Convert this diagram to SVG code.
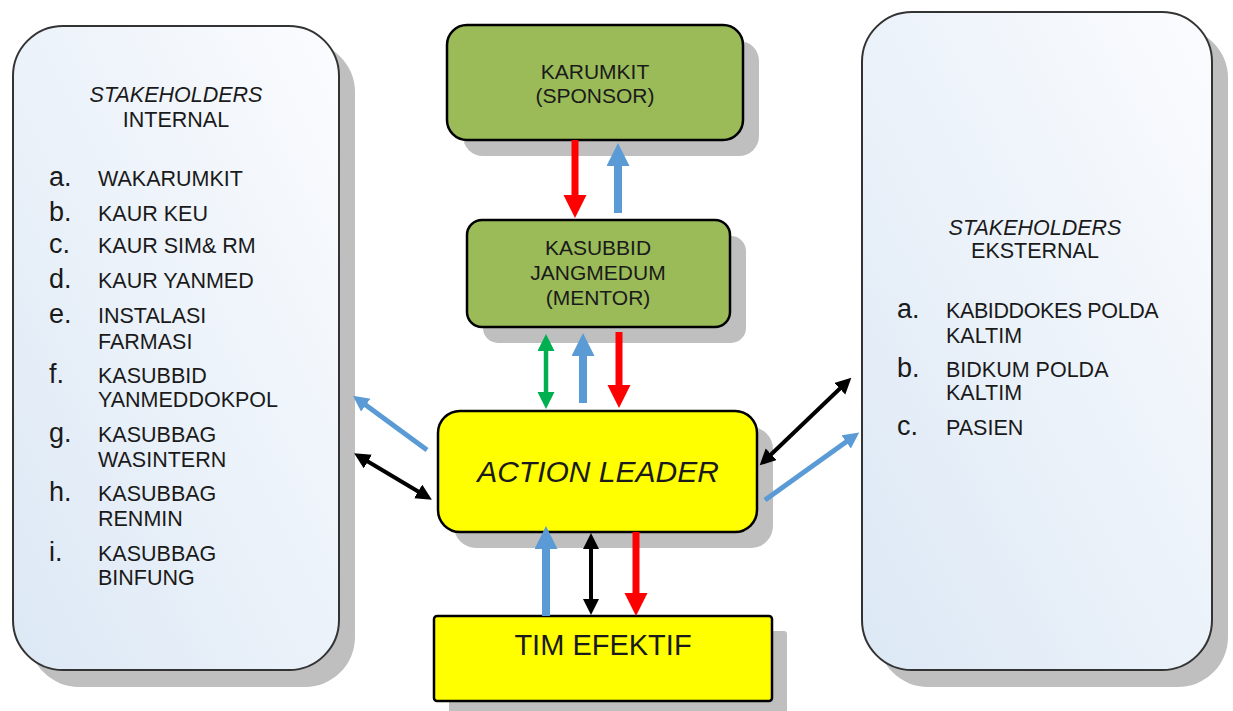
<svg xmlns="http://www.w3.org/2000/svg" width="1233" height="711" viewBox="0 0 1233 711">
<defs>
<linearGradient id="sh" x1="0" y1="1" x2="1" y2="0">
<stop offset="0" stop-color="#DCE8F5"/>
<stop offset="1" stop-color="#FBFCFE"/>
</linearGradient>
<marker id="hRed" markerUnits="userSpaceOnUse" markerWidth="24" markerHeight="24" refX="1" refY="11.5" orient="auto-start-reverse"><path d="M0,0 L23,11.5 L0,23 z" fill="#FF0000"/></marker>
<marker id="hBlue" markerUnits="userSpaceOnUse" markerWidth="24" markerHeight="24" refX="1" refY="11.5" orient="auto-start-reverse"><path d="M0,0 L23,11.5 L0,23 z" fill="#5B9BD5"/></marker>
<marker id="hBlueS" markerUnits="userSpaceOnUse" markerWidth="18" markerHeight="18" refX="1" refY="8" orient="auto-start-reverse"><path d="M0,0 L16,8 L0,16 z" fill="#5B9BD5"/></marker>
<marker id="hBlack" markerUnits="userSpaceOnUse" markerWidth="18" markerHeight="18" refX="1" refY="8" orient="auto-start-reverse"><path d="M0,0 L16,8 L0,16 z" fill="#000000"/></marker>
<marker id="hGreen" markerUnits="userSpaceOnUse" markerWidth="18" markerHeight="18" refX="1" refY="8.5" orient="auto-start-reverse"><path d="M0,0 L17,8.5 L0,17 z" fill="#00B050"/></marker>
</defs>
<style>
.shadow{fill:#BFBFBF}
.stk{fill:url(#sh);stroke:#333333;stroke-width:2}
.green{fill:#9BBB59;stroke:#000;stroke-width:2.5}
.yellow{fill:#FFFF00;stroke:#000;stroke-width:2.5}
.t{font-family:"Liberation Sans",Arial,sans-serif;fill:#1a1a1a}
.c{text-anchor:middle}
.title{font-size:21.5px}
.item{font-size:21.5px}
.lbl{font-size:27px}
.box{font-size:21px}
.big{font-size:30px}
.it{font-style:italic}
.ar{fill:none;stroke-linecap:butt}
</style>

<g id="internal">
<rect class="shadow" x="29" y="42" width="326" height="645" rx="50"/>
<rect class="stk" x="13" y="26" width="326" height="644" rx="50"/>
<text class="t c title it" x="176" y="102">STAKEHOLDERS</text>
<text class="t c title" x="176" y="127">INTERNAL</text>
<g class="t">
<text class="lbl" x="49" y="186">a.</text><text class="item" x="98" y="186">WAKARUMKIT</text>
<text class="lbl" x="49" y="221">b.</text><text class="item" x="98" y="221">KAUR KEU</text>
<text class="lbl" x="49" y="253">c.</text><text class="item" x="98" y="253">KAUR SIM&amp; RM</text>
<text class="lbl" x="49" y="288">d.</text><text class="item" x="98" y="288">KAUR YANMED</text>
<text class="lbl" x="49" y="323">e.</text><text class="item" x="98" y="323">INSTALASI</text><text class="item" x="98" y="349">FARMASI</text>
<text class="lbl" x="49" y="383">f.</text><text class="item" x="98" y="383">KASUBBID</text><text class="item" x="98" y="407">YANMEDDOKPOL</text>
<text class="lbl" x="49" y="442">g.</text><text class="item" x="98" y="442">KASUBBAG</text><text class="item" x="98" y="467">WASINTERN</text>
<text class="lbl" x="49" y="501">h.</text><text class="item" x="98" y="501">KASUBBAG</text><text class="item" x="98" y="526">RENMIN</text>
<text class="lbl" x="49" y="561">i.</text><text class="item" x="98" y="561">KASUBBAG</text><text class="item" x="98" y="585">BINFUNG</text>
</g>
</g>

<g id="external">
<rect class="shadow" x="878" y="28" width="350" height="659" rx="50"/>
<rect class="stk" x="862" y="12" width="350" height="658" rx="50"/>
<text class="t c title it" x="1035" y="235">STAKEHOLDERS</text>
<text class="t c title" x="1035" y="258">EKSTERNAL</text>
<g class="t">
<text class="lbl" x="897" y="318">a.</text><text class="item" x="946" y="318" style="letter-spacing:-0.4px">KABIDDOKES POLDA</text><text class="item" x="946" y="343">KALTIM</text>
<text class="lbl" x="897" y="377">b.</text><text class="item" x="946" y="377">BIDKUM POLDA</text><text class="item" x="946" y="400">KALTIM</text>
<text class="lbl" x="897" y="435">c.</text><text class="item" x="946" y="435">PASIEN</text>
</g>
</g>

<g id="karumkit">
<rect class="shadow" x="463" y="41" width="296" height="115" rx="20"/>
<rect class="green" x="447" y="25" width="296" height="115" rx="20"/>
<text class="t c box" x="595" y="79">KARUMKIT</text>
<text class="t c box" x="595" y="103">(SPONSOR)</text>
</g>

<g id="kasubbid">
<rect class="shadow" x="483" y="236" width="263" height="107" rx="15"/>
<rect class="green" x="467" y="220" width="263" height="107" rx="15"/>
<text class="t c box" x="598" y="255">KASUBBID</text>
<text class="t c box" x="598" y="280">JANGMEDUM</text>
<text class="t c box" x="598" y="305">(MENTOR)</text>
</g>

<g id="action-leader">
<rect class="shadow" x="454" y="427" width="319" height="121" rx="22"/>
<rect class="yellow" x="438" y="411" width="319" height="121" rx="22"/>
<text class="t c big it" x="598" y="482">ACTION LEADER</text>
</g>

<g id="tim-efektif">
<rect class="shadow" x="449" y="631" width="338" height="85" rx="3"/>
<rect class="yellow" x="434" y="616" width="338" height="85" rx="3"/>
<text class="t c big" x="603" y="655" style="font-size:29px">TIM EFEKTIF</text>
</g>

<g id="connectors" class="ar">
<line x1="575" y1="140" x2="575" y2="196" stroke="#FF0000" stroke-width="7" marker-end="url(#hRed)"/>
<line x1="618" y1="213" x2="618" y2="165" stroke="#5B9BD5" stroke-width="8" marker-end="url(#hBlue)"/>
<line x1="546" y1="350" x2="546" y2="393" stroke="#00B050" stroke-width="4.5" marker-start="url(#hGreen)" marker-end="url(#hGreen)"/>
<line x1="583" y1="403" x2="583" y2="355" stroke="#5B9BD5" stroke-width="8" marker-end="url(#hBlue)"/>
<line x1="619" y1="332" x2="619" y2="386" stroke="#FF0000" stroke-width="7" marker-end="url(#hRed)"/>
<line x1="427" y1="450" x2="365" y2="404.5" stroke="#5B9BD5" stroke-width="5" marker-end="url(#hBlueS)"/>
<line x1="367" y1="461" x2="419" y2="492" stroke="#000" stroke-width="4" marker-start="url(#hBlack)" marker-end="url(#hBlack)"/>
<line x1="840.5" y1="388" x2="770.5" y2="455" stroke="#000" stroke-width="4" marker-start="url(#hBlack)" marker-end="url(#hBlack)"/>
<line x1="765" y1="500" x2="847" y2="441.3" stroke="#5B9BD5" stroke-width="5" marker-end="url(#hBlueS)"/>
<line x1="546" y1="616" x2="546" y2="548" stroke="#5B9BD5" stroke-width="8" marker-end="url(#hBlue)"/>
<line x1="591" y1="548" x2="591" y2="600" stroke="#000" stroke-width="4" marker-start="url(#hBlack)" marker-end="url(#hBlack)"/>
<line x1="636" y1="532" x2="636" y2="594" stroke="#FF0000" stroke-width="7" marker-end="url(#hRed)"/>
</g>
</svg>
